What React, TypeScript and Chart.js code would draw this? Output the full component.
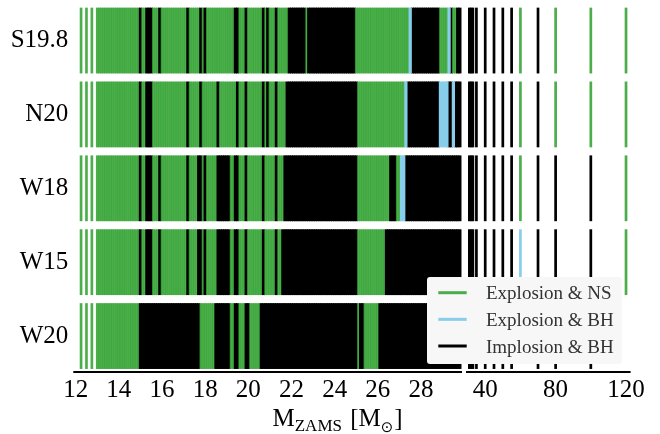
import React, { useEffect, useRef } from 'react';
import { Chart, registerables, LinearScale } from 'chart.js';

// ---------------- data ----------------
const ENGINES = ['S19.8', 'N20', 'W18', 'W15', 'W20'];
const X_TICKS = [12, 14, 16, 18, 20, 22, 24, 26, 28, 40, 80, 120];
const LEGEND_LABELS = ['Explosion & NS', 'Explosion & BH', 'Implosion & BH'];
const LEGEND_CODES = ['N', 'B', 'I'];

// progenitor masses of the left (fine) panel
const LEFT_MASSES = [
  12.25, 12.5, 12.75,
  13.0, 13.1, 13.2, 13.3, 13.4, 13.5, 13.6, 13.7, 13.8, 13.9,
  14.0, 14.1, 14.2, 14.3, 14.4, 14.5, 14.6, 14.7, 14.8, 14.9,
  15.0, 15.1, 15.2, 15.3, 15.4, 15.5, 15.6, 15.7, 15.8, 15.9,
  16.0, 16.1, 16.2, 16.3, 16.4, 16.5, 16.6, 16.7, 16.8, 16.9,
  17.0, 17.1, 17.2, 17.3, 17.4, 17.5, 17.6, 17.7, 17.8, 17.9,
  18.0, 18.1, 18.2, 18.3, 18.4, 18.5, 18.6, 18.7, 18.8, 18.9,
  19.0, 19.1, 19.2, 19.3, 19.4, 19.5, 19.6, 19.7, 19.8, 19.9,
  20.0, 20.1, 20.2, 20.3, 20.4, 20.5, 20.6, 20.7, 20.8, 20.9,
  21.0, 21.1, 21.2, 21.3, 21.4, 21.5, 21.6, 21.7, 21.8, 21.9,
  22.0, 22.1, 22.2, 22.3, 22.4, 22.5, 22.6, 22.7, 22.8, 22.9,
  23.0, 23.1, 23.2, 23.3, 23.4, 23.5, 23.6, 23.7, 23.8, 23.9,
  24.0, 24.1, 24.2, 24.3, 24.4, 24.5, 24.6, 24.7, 24.8, 24.9,
  25.0, 25.1, 25.2, 25.3, 25.4, 25.5, 25.6, 25.7, 25.8, 25.9,
  26.0, 26.1, 26.2, 26.3, 26.4, 26.5, 26.6, 26.7, 26.8, 26.9,
  27.0, 27.1, 27.2, 27.3, 27.4, 27.5, 27.6, 27.7, 27.8, 27.9,
  28.0, 28.1, 28.2, 28.3, 28.4, 28.5, 28.6, 28.7, 28.8, 28.9,
  29.0, 29.1, 29.2, 29.3, 29.4, 29.5, 29.6, 29.7, 29.8,
];
// progenitor masses of the right (coarse) panel
const RIGHT_MASSES = [31, 32, 33, 35, 40, 45, 50, 55, 60, 70, 80, 100, 120];

// outcome runs: [first mass, last mass, code]  N = explosion & NS, B = explosion & BH, I = implosion & BH
type Run = [number, number, string];
const S198_LEFT: Run[] = [
  [12.25, 14.9, 'N'], [15.0, 15.0, 'I'], [15.1, 15.2, 'N'], [15.3, 15.5, 'I'],
  [15.6, 15.8, 'N'], [15.9, 15.9, 'I'], [16.0, 17.1, 'N'], [17.2, 17.2, 'I'],
  [17.3, 17.7, 'N'], [17.8, 17.8, 'I'], [17.9, 17.9, 'N'], [18.0, 18.0, 'I'],
  [18.1, 19.3, 'N'], [19.4, 19.5, 'I'], [19.6, 19.8, 'N'], [19.9, 19.9, 'I'],
  [20.0, 20.6, 'N'], [20.7, 20.7, 'I'], [20.8, 20.8, 'N'], [20.9, 20.9, 'I'],
  [21.0, 21.2, 'N'], [21.3, 21.3, 'I'], [21.4, 21.8, 'N'], [21.9, 22.6, 'I'],
  [22.7, 22.7, 'N'], [22.8, 24.9, 'I'], [25.0, 27.4, 'N'], [27.5, 27.5, 'B'],
  [27.6, 28.8, 'I'], [28.9, 29.2, 'N'], [29.3, 29.3, 'B'], [29.4, 29.4, 'I'],
  [29.5, 29.6, 'N'], [29.7, 29.8, 'I'],
];
const N20_LEFT: Run[] = [
  [12.25, 14.9, 'N'], [15.0, 15.0, 'I'], [15.1, 15.2, 'N'], [15.3, 15.5, 'I'],
  [15.6, 17.1, 'N'], [17.2, 17.2, 'I'], [17.3, 17.7, 'N'], [17.8, 17.8, 'I'],
  [17.9, 18.5, 'N'], [18.6, 18.6, 'I'], [18.7, 19.4, 'N'], [19.5, 19.5, 'I'],
  [19.6, 19.8, 'N'], [19.9, 19.9, 'I'], [20.0, 20.6, 'N'], [20.7, 20.7, 'I'],
  [20.8, 20.8, 'N'], [20.9, 20.9, 'I'], [21.0, 21.2, 'N'], [21.3, 21.3, 'I'],
  [21.4, 21.7, 'N'], [21.8, 25.0, 'I'], [25.1, 27.2, 'N'], [27.3, 27.3, 'B'],
  [27.4, 28.8, 'I'], [28.9, 29.2, 'B'], [29.3, 29.4, 'I'], [29.5, 29.5, 'B'],
  [29.6, 29.8, 'I'],
];
const W18_LEFT: Run[] = [
  [12.25, 14.9, 'N'], [15.0, 15.0, 'I'], [15.1, 15.2, 'N'], [15.3, 15.5, 'I'],
  [15.6, 15.8, 'N'], [15.9, 15.9, 'I'], [16.0, 17.1, 'N'], [17.2, 17.2, 'I'],
  [17.3, 17.6, 'N'], [17.7, 17.8, 'I'], [17.9, 17.9, 'N'], [18.0, 18.0, 'I'],
  [18.1, 18.5, 'N'], [18.6, 19.1, 'I'], [19.2, 19.3, 'N'], [19.4, 19.5, 'I'],
  [19.6, 19.8, 'N'], [19.9, 19.9, 'I'], [20.0, 20.6, 'N'], [20.7, 20.7, 'I'],
  [20.8, 21.2, 'N'], [21.3, 21.3, 'I'], [21.4, 21.6, 'N'], [21.7, 25.0, 'I'],
  [25.1, 26.5, 'N'], [26.6, 26.8, 'I'], [26.9, 27.0, 'N'], [27.1, 27.2, 'B'],
  [27.3, 29.8, 'I'],
];
const W15_LEFT: Run[] = [
  [12.25, 14.9, 'N'], [15.0, 15.0, 'I'], [15.1, 15.2, 'N'], [15.3, 15.5, 'I'],
  [15.6, 15.8, 'N'], [15.9, 15.9, 'I'], [16.0, 17.1, 'N'], [17.2, 17.2, 'I'],
  [17.3, 17.6, 'N'], [17.7, 17.8, 'I'], [17.9, 17.9, 'N'], [18.0, 18.0, 'I'],
  [18.1, 18.5, 'N'], [18.6, 19.1, 'I'], [19.2, 19.3, 'N'], [19.4, 19.5, 'I'],
  [19.6, 19.8, 'N'], [19.9, 19.9, 'I'], [20.0, 20.6, 'N'], [20.7, 20.7, 'I'],
  [20.8, 21.2, 'N'], [21.3, 21.3, 'I'], [21.4, 21.5, 'N'], [21.6, 25.0, 'I'],
  [25.1, 26.3, 'N'], [26.4, 29.8, 'I'],
];
const W20_LEFT: Run[] = [
  [12.25, 14.9, 'N'], [15.0, 17.7, 'I'], [17.8, 18.4, 'N'], [18.5, 19.1, 'I'],
  [19.2, 19.3, 'N'], [19.4, 19.5, 'I'], [19.6, 19.8, 'N'], [19.9, 20.0, 'I'],
  [20.1, 20.5, 'N'], [20.6, 25.0, 'I'], [25.1, 25.1, 'N'], [25.2, 25.3, 'I'],
  [25.4, 26.0, 'N'], [26.1, 29.8, 'I'],
];
// right panel outcomes, one character per RIGHT_MASSES entry ('-' = no model shown)
const S198_RIGHT = 'IIIIIIIININNN';
const N20_RIGHT = 'IIIIIIIININNN';
const W18_RIGHT = 'IIIIIIIINIIIN';
const W15_RIGHT = 'IIIIIIIIBIIIN';
const W20_RIGHT = 'IIIIIIII-III-';

const LEFT_RUNS = [S198_LEFT, N20_LEFT, W18_LEFT, W15_LEFT, W20_LEFT];
const RIGHT_CODES = [S198_RIGHT, N20_RIGHT, W18_RIGHT, W15_RIGHT, W20_RIGHT];

// ---------------- styles ----------------
const COLORS: Record<string, string> = {
  N: 'rgba(44,160,44,0.85)',
  B: 'rgb(135,206,235)',
  I: '#000000',
};
const SERIF = '"Liberation Serif", "Times New Roman", serif';

// broken axis geometry
const LEFT_RANGE = [11.89, 29.9];
const RIGHT_RANGE = [29.1, 122.6];
const BREAK_VALUE = 30.5;
const LEFT_FRAC = 0.6975;
const GAP_FRAC = 0.0072;

class BrokenLinearScale extends LinearScale {
  static id = 'brokenLinear';
  static defaults = (LinearScale as any).defaults;
  panelPixels() {
    const self = this as any;
    const w = self.right - self.left;
    const lw = w * LEFT_FRAC;
    const gw = w * GAP_FRAC;
    return [self.left, self.left + lw, self.left + lw + gw, self.right];
  }
  getPixelForValue(value: number) {
    const [l0, l1, r0, r1] = this.panelPixels();
    if (value <= BREAK_VALUE) {
      return l0 + ((value - LEFT_RANGE[0]) / (LEFT_RANGE[1] - LEFT_RANGE[0])) * (l1 - l0);
    }
    return r0 + ((value - RIGHT_RANGE[0]) / (RIGHT_RANGE[1] - RIGHT_RANGE[0])) * (r1 - r0);
  }
  getValueForPixel(pixel: number) {
    const [l0, l1, r0, r1] = this.panelPixels();
    if (pixel <= (l1 + r0) / 2) {
      return LEFT_RANGE[0] + ((pixel - l0) / (l1 - l0)) * (LEFT_RANGE[1] - LEFT_RANGE[0]);
    }
    return RIGHT_RANGE[0] + ((pixel - r0) / (r1 - r0)) * (RIGHT_RANGE[1] - RIGHT_RANGE[0]);
  }
}

Chart.register(...registerables, BrokenLinearScale as any);

function outcomeFor(runs: Run[], m: number): string | null {
  for (const [a, b, c] of runs) {
    if (m >= a - 1e-6 && m <= b + 1e-6) return c;
  }
  return null;
}

const overlayPlugin = {
  id: 'overlay',
  afterDraw(chart: any) {
    const ctx = chart.ctx as CanvasRenderingContext2D;
    const area = chart.chartArea;
    const xs = chart.scales.x as BrokenLinearScale;
    const [l0, l1, r0, r1] = xs.panelPixels();
    ctx.save();
    // broken bottom spine
    ctx.strokeStyle = '#000';
    ctx.lineWidth = 2;
    const sy = area.bottom - 1;
    ctx.beginPath();
    ctx.moveTo(l0, sy);
    ctx.lineTo(l1, sy);
    ctx.moveTo(r0, sy);
    ctx.lineTo(r1, sy);
    ctx.stroke();

    // x-axis title  M_ZAMS [M_sun]
    ctx.fillStyle = '#000';
    ctx.textAlign = 'left';
    ctx.textBaseline = 'alphabetic';
    const big = `25px ${SERIF}`;
    const small = `17px ${SERIF}`;
    const parts: [string, string, number][] = [
      ['M', big, 0],
      ['ZAMS', small, 5],
      [' [M', big, 0],
      ['\u2299', `15px "DejaVu Sans", sans-serif`, 6],
      [']', big, 0],
    ];
    let tx = 272.5;
    const base = 426;
    for (const [t, f, dy] of parts) {
      ctx.font = f;
      ctx.fillText(t, tx, base + dy);
      tx += ctx.measureText(t).width + (t === 'ZAMS' ? 2 : 0) + (t === '\u2299' ? 1 : 0);
    }

    // legend
    const bx = 427, by = 277, bw = 195, bh = 87;
    ctx.fillStyle = '#f7f7f7';
    ctx.beginPath();
    (ctx as any).roundRect ? (ctx as any).roundRect(bx, by, bw, bh, 3) : ctx.rect(bx, by, bw, bh);
    ctx.fill();
    ctx.font = `19px ${SERIF}`;
    LEGEND_LABELS.forEach((label, i) => {
      const ly = 292.7 + i * 26.65;
      ctx.strokeStyle = COLORS[LEGEND_CODES[i]];
      ctx.lineWidth = 3;
      ctx.beginPath();
      ctx.moveTo(438.3, ly);
      ctx.lineTo(466.7, ly);
      ctx.stroke();
      ctx.fillStyle = '#333';
      ctx.fillText(label, 486, ly + 6.6);
    });
    ctx.restore();
  },
};

export default function App() {
  const ref = useRef<HTMLCanvasElement>(null);
  useEffect(() => {
    document.body.style.margin = '0';
    const canvas = ref.current;
    if (!canvas) return;
    const datasets = ENGINES.map((eng, row) => {
      const base: { x: number; y: number; c: string; w: number }[] = [];
      const blue: { x: number; y: number; c: string; w: number }[] = [];
      LEFT_MASSES.forEach((m) => {
        const c = outcomeFor(LEFT_RUNS[row], m);
        if (!c) return;
        const item = { x: m, y: row, c: COLORS[c], w: c === 'N' ? 2.7 : 3.25 };
        (c === 'B' ? blue : base).push(item);
      });
      RIGHT_MASSES.forEach((m, i) => {
        const c = RIGHT_CODES[row][i];
        if (!c || c === '-') return;
        const item = { x: m, y: row, c: COLORS[c], w: 2.7 };
        (c === 'B' ? blue : base).push(item);
      });
      const all = base.concat(blue); // explosion & BH marks drawn on top
      return {
        label: eng,
        data: all.map((p) => ({ x: p.x, y: p.y })),
        showLine: false,
        clip: false as any,
        pointStyle: 'line' as const,
        pointRotation: 90,
        pointRadius: 32.9,
        pointHoverRadius: 32.9,
        pointBorderWidth: all.map((p) => p.w),
        pointHoverBorderWidth: all.map((p) => p.w),
        pointBorderColor: all.map((p) => p.c),
        pointBackgroundColor: all.map((p) => p.c),
      };
    });

    const chart = new Chart(canvas, {
      type: 'scatter',
      data: { datasets },
      options: {
        responsive: false,
        animation: false,
        events: [],
        layout: { padding: { top: 3.6, right: 29.4, bottom: 0, left: 0 }, autoPadding: false } as any,
        plugins: {
          legend: { display: false },
          tooltip: { enabled: false },
          title: { display: false },
        },
        scales: {
          x: {
            type: 'brokenLinear' as any,
            position: 'bottom',
            min: LEFT_RANGE[0],
            max: RIGHT_RANGE[1],
            grid: { display: false, drawTicks: false },
            border: { display: false },
            afterBuildTicks: (s: any) => {
              s.ticks = X_TICKS.map((v) => ({ value: v }));
            },
            afterFit: (s: any) => {
              s.height = 61;
              s.paddingLeft = 0;
              s.paddingRight = 0;
            },
            ticks: {
              autoSkip: false,
              maxRotation: 0,
              minRotation: 0,
              padding: 2,
              color: '#000',
              font: { family: SERIF, size: 25 },
              callback: (v: any) => String(v),
            },
          } as any,
          y: {
            type: 'linear',
            position: 'left',
            min: -0.5,
            max: 4.5,
            reverse: true,
            grid: { display: false, drawTicks: false },
            border: { display: false },
            afterBuildTicks: (s: any) => {
              s.ticks = ENGINES.map((_, i) => ({ value: i }));
            },
            afterFit: (s: any) => {
              s.width = 73.3;
              s.paddingTop = 0;
              s.paddingBottom = 0;
            },
            ticks: {
              autoSkip: false,
              padding: 5,
              color: '#000',
              font: { family: SERIF, size: 25 },
              callback: (v: any) => ENGINES[Math.round(Number(v))] ?? '',
            },
          } as any,
        },
      },
      plugins: [overlayPlugin],
    });
    return () => chart.destroy();
  }, []);

  return (
    <div style={{ position: 'absolute', left: 0, top: 0, width: 660, height: 434, background: '#fff' }}>
      <canvas ref={ref} width={660} height={434} style={{ display: 'block', width: '660px', height: '434px' }} />
    </div>
  );
}
